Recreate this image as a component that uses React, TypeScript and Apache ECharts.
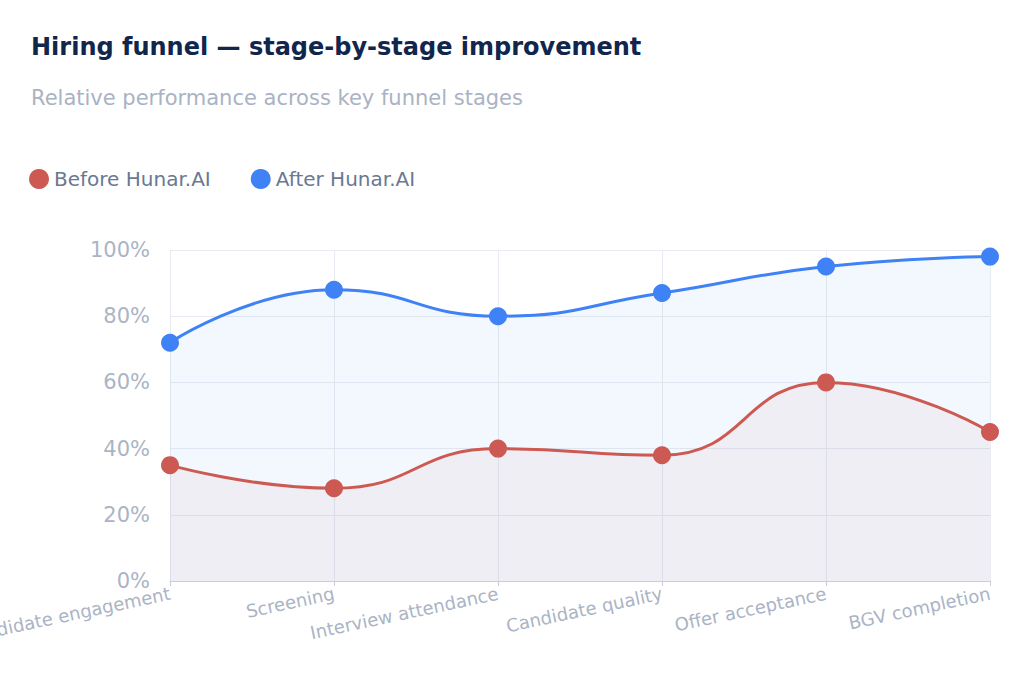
import React, { useEffect, useRef } from "react";
import * as echarts from "echarts";

const categories = ["Candidate engagement", "Screening", "Interview attendance", "Candidate quality", "Offer acceptance", "BGV completion"];
const beforeValues = [35, 28, 40, 38, 60, 45];
const afterValues = [72, 88, 80, 87, 95, 98];
const RED = "#cd5a52";
const BLUE = "#3f82f6";
const FONT = "'DejaVu Sans', sans-serif";

export default function App() {
  const ref = useRef<HTMLDivElement>(null);
  useEffect(() => {
    document.body.style.margin = "0";
    const chart = echarts.init(ref.current!, null, { renderer: "svg" });
    chart.setOption({
      animation: false,
      textStyle: { fontFamily: FONT },
      title: {
        text: "Hiring funnel — stage-by-stage improvement",
        subtext: "Relative performance across key funnel stages",
        left: 26, top: 30,
        textStyle: { fontSize: 24, fontWeight: 700, color: "#10264d", fontFamily: FONT },
        subtextStyle: { fontSize: 21, color: "#a9b3c4", fontFamily: FONT },
        itemGap: 28,
      },
      legend: {
        left: 24, top: 164, icon: "circle", itemWidth: 20, itemHeight: 20, itemGap: 40,
        textStyle: { fontSize: 20, color: "#6a7890", fontFamily: FONT },
        data: ["Before Hunar.AI", "After Hunar.AI"],
      },
      grid: { left: 170, right: 32, top: 250, bottom: 115, containLabel: false, outerBoundsMode: "none" },
      xAxis: {
        type: "category", data: categories, boundaryGap: false,
        axisLine: { lineStyle: { color: "#c9cfd9" } },
        axisTick: { show: true, lineStyle: { color: "#c9cfd9" } },
        axisLabel: { rotate: 12, fontSize: 18, color: "#aab4c5", margin: 12, fontFamily: FONT },
        splitLine: { show: true, lineStyle: { color: "#e8ecf2" } },
      },
      yAxis: {
        type: "value", min: 0, max: 100, interval: 20,
        axisLabel: { formatter: "{value}%", fontSize: 21, color: "#aab4c5", margin: 20, fontFamily: FONT },
        splitLine: { lineStyle: { color: "#e8ecf2" } },
        axisLine: { show: false }, axisTick: { show: false },
      },
      series: [
        {
          name: "Before Hunar.AI", type: "line", smooth: true, data: beforeValues,
          symbol: "circle", symbolSize: 18, itemStyle: { color: RED },
          lineStyle: { width: 3, color: RED }, areaStyle: { color: "rgba(205,90,82,0.08)" }, z: 3,
        },
        {
          name: "After Hunar.AI", type: "line", smooth: true, data: afterValues,
          symbol: "circle", symbolSize: 18, itemStyle: { color: BLUE },
          lineStyle: { width: 3, color: BLUE }, areaStyle: { color: "rgba(63,130,246,0.09)" }, z: 2,
        },
      ],
    });
    return () => chart.dispose();
  }, []);
  return <div ref={ref} style={{ width: 1022, height: 696, background: "#fff" }} />;
}
